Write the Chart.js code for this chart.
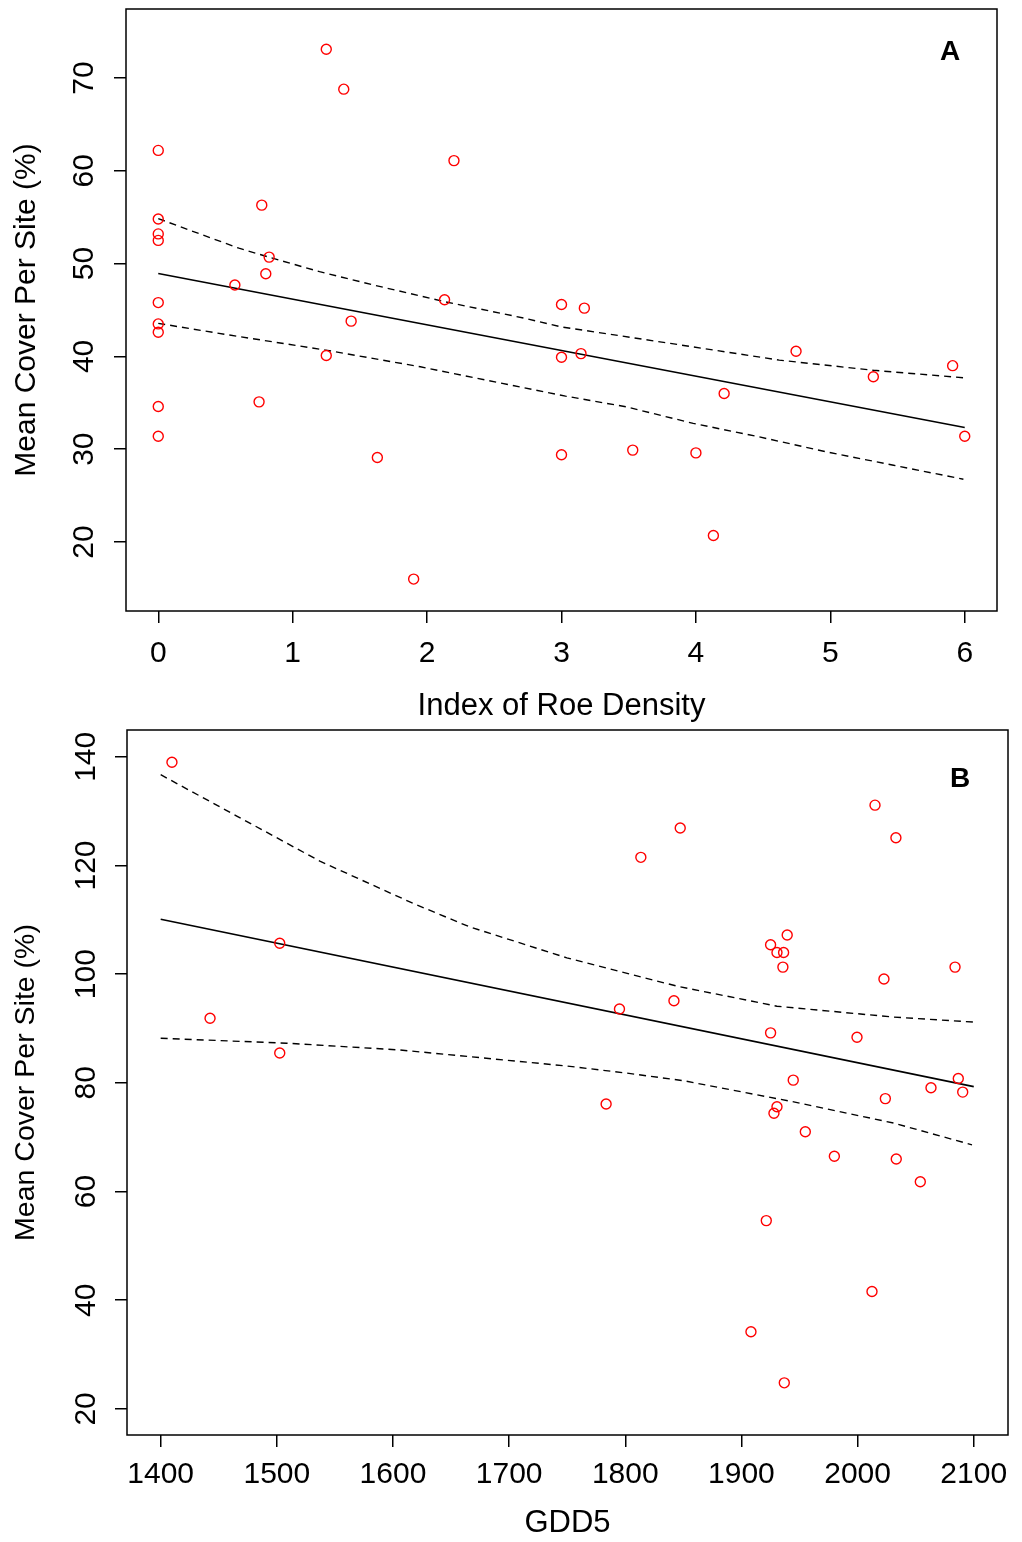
<!DOCTYPE html>
<html>
<head>
<meta charset="utf-8">
<script src="https://cdn.jsdelivr.net/npm/chart.js@4.4.1/dist/chart.umd.min.js"></script>
<style>
  body { margin: 0; background: #fff; }
  #wrap { position: relative; width: 1022px; height: 1542px; }
  canvas { position: absolute; left: 0; }
</style>
</head>
<body>
<div id="wrap">
  <canvas id="chartA" width="1022" height="730" style="top:0"></canvas>
  <canvas id="chartB" width="1022" height="822" style="top:720px"></canvas>
</div>
<script>
// ---- Panel A : cover vs index of roe density
const roeDensity = [1.25, 1.38, 0, 2.20, 0.77, 0, 0, 0, 0.825, 0.80, 0.57, 0, 2.13, 3.0, 3.17,
                    0, 0, 1.435, 1.25, 3.0, 0, 0.75, 0, 1.63, 3.0, 1.90, 3.145, 4.745, 5.91,
                    5.32, 4.21, 6.0, 3.53, 4.0, 4.13];
const coverA = [73.1, 68.8, 62.2, 61.1, 56.3, 54.8, 53.2, 52.5, 50.7, 48.9, 47.7, 45.8, 46.1, 45.6, 45.2,
                43.5, 42.6, 43.8, 40.1, 39.9, 34.6, 35.1, 31.4, 29.1, 29.4, 16.0, 40.3, 40.55, 39.0,
                37.8, 36.0, 31.4, 29.9, 29.6, 20.7];
const fitAx = [0, 6];
const fitAy = [48.94, 32.34];
const upperAx = [0, 0.33, 0.60, 0.825, 1.20, 1.60, 2.13, 2.73, 2.99, 3.81, 4.62, 5.32, 5.99];
const upperAy = [54.85, 53.09, 51.66, 50.69, 49.13, 47.70, 45.9, 44.1, 43.2, 41.4, 39.6, 38.5, 37.7];
const lowerAx = [0, 0.53, 1.245, 1.95, 2.44, 3.03, 3.48, 3.98, 4.47, 4.97, 5.47, 5.99];
const lowerAy = [43.56, 42.3, 40.68, 38.88, 37.44, 35.72, 34.57, 32.78, 31.33, 29.71, 28.27, 26.76];
const ticksAx = [0, 1, 2, 3, 4, 5, 6];
const ticksAy = [20, 30, 40, 50, 60, 70];

// ---- Panel B : cover vs GDD5
const gdd5 = [1409.7, 1502.5, 1442.5, 1502.5, 2015, 1847.3, 2033, 1813.4, 1939.4, 1925.1, 1930.6, 1936.3,
              1935.7, 2083.9, 2022.7, 1841.9, 1795, 1925.1, 1999.5, 1944.6, 2086.7, 2063.2, 2090.5,
              2023.9, 1783.5, 1930.6, 1928, 1955, 1980, 2033.3, 2054, 1921.4, 2012.4, 1908.2, 1936.9];
const coverB = [139.0, 105.7, 91.9, 85.5, 131.1, 126.9, 125.1, 121.5, 107.2, 105.4, 104.0, 104.0,
                101.3, 101.3, 99.1, 95.1, 93.6, 89.2, 88.4, 80.5, 80.8, 79.1, 78.3,
                77.1, 76.1, 75.6, 74.4, 71.0, 66.5, 66.0, 61.8, 54.65, 41.6, 34.2, 24.8];
const fitBx = [1400, 2100];
const fitBy = [110.1, 79.3];
const upperBx = [1400, 1465.5, 1537, 1617.6, 1666, 1749.7, 1844.4, 1930.6, 2031, 2102];
const upperBy = [136.7, 129.1, 120.8, 113.0, 108.7, 103.0, 97.8, 94.1, 92.1, 91.15];
const lowerBx = [1400, 1508.5, 1606, 1749.7, 1801, 1850, 1945, 2031, 2098.5];
const lowerBy = [88.2, 87.3, 86.05, 83.1, 81.8, 80.4, 76.5, 72.6, 68.6];
const ticksBx = [1400, 1500, 1600, 1700, 1800, 1900, 2000, 2100];
const ticksBy = [20, 40, 60, 80, 100, 120, 140];

const FONT = '"Liberation Sans", Arial, Helvetica, sans-serif';

function pairs(xs, ys) {
  return xs.map((x, i) => ({x: x, y: ys[i]}));
}

// box round the plot, vertical y tick labels (R style), panel letter
const rStyle = {
  id: 'rStyle',
  afterDraw(chart, args, opts) {
    const ctx = chart.ctx;
    const a = chart.chartArea;
    const ys = chart.scales.y;
    ctx.save();
    ctx.strokeStyle = '#000';
    ctx.lineWidth = 1.5;
    ctx.strokeRect(a.left, a.top, a.right - a.left, a.bottom - a.top);
    ctx.fillStyle = '#000';
    ctx.font = '30px ' + FONT;
    ctx.textAlign = 'center';
    ctx.textBaseline = 'alphabetic';
    ys.ticks.forEach(t => {
      const py = ys.getPixelForValue(t.value);
      ctx.save();
      ctx.translate(opts.labelX, py);
      ctx.rotate(-Math.PI / 2);
      ctx.fillText(String(t.value), 0, 11);
      ctx.restore();
    });
    ctx.font = 'bold 28px ' + FONT;
    ctx.textAlign = 'left';
    ctx.fillText(opts.tag, a.right + opts.tagDx, a.top + opts.tagDy);
    ctx.restore();
  }
};

function makeChart(id, o) {
  const axisGrid = {drawOnChartArea: false, drawTicks: true, tickLength: 12, color: '#000', lineWidth: 1.5};
  new Chart(document.getElementById(id), {
    type: 'scatter',
    data: {
      datasets: [
        {
          data: pairs(o.px, o.py),
          pointRadius: 5,
          pointBorderWidth: 1.4,
          borderColor: '#ff0000',
          backgroundColor: 'rgba(0,0,0,0)'
        },
        {
          data: pairs(o.fitX, o.fitY), showLine: true, pointRadius: 0,
          borderColor: '#000', borderWidth: 1.6
        },
        {
          data: pairs(o.upX, o.upY), showLine: true, pointRadius: 0,
          borderColor: '#000', borderWidth: 1.4, borderDash: [7, 5]
        },
        {
          data: pairs(o.loX, o.loY), showLine: true, pointRadius: 0,
          borderColor: '#000', borderWidth: 1.4, borderDash: [7, 5]
        }
      ]
    },
    options: {
      responsive: false,
      animation: false,
      layout: {padding: o.padding},
      plugins: {
        legend: {display: false},
        tooltip: {enabled: false},
        rStyle: o.labels
      },
      scales: {
        x: {
          type: 'linear',
          min: o.xMin, max: o.xMax,
          afterBuildTicks: s => { s.ticks = o.xTicks.map(v => ({value: v})); },
          afterFit: s => { s.height = o.xAxisH; s.paddingLeft = 0; s.paddingRight = 0; },
          grid: axisGrid,
          border: {display: false},
          ticks: {font: {size: 30, family: FONT}, color: '#000', padding: o.xTickPad,
                  maxRotation: 0, autoSkip: false, callback: v => String(v)},
          title: {display: true, text: o.xTitle, color: '#000',
                  font: {size: 31, family: FONT}, padding: {top: 0, bottom: o.xTitlePad}}
        },
        y: {
          type: 'linear',
          min: o.yMin, max: o.yMax,
          afterBuildTicks: s => { s.ticks = o.yTicks.map(v => ({value: v})); },
          afterFit: s => { s.width = o.yAxisW; s.paddingTop = 0; s.paddingBottom = 0; },
          grid: axisGrid,
          border: {display: false},
          ticks: {font: {size: 30, family: FONT}, color: 'rgba(0,0,0,0)', autoSkip: false,
                  callback: v => String(v)},
          title: {display: true, text: 'Mean Cover Per Site (%)', color: '#000',
                  font: {size: o.yTitleSize, family: FONT}, padding: {top: 9, bottom: 0}}
        }
      }
    },
    plugins: [rStyle]
  });
}

makeChart('chartA', {
  px: roeDensity, py: coverA,
  fitX: fitAx, fitY: fitAy, upX: upperAx, upY: upperAy, loX: lowerAx, loY: lowerAy,
  xMin: -0.24, xMax: 6.24, yMin: 12.56, yMax: 77.44,
  xTicks: ticksAx, yTicks: ticksAy,
  padding: {top: 9, right: 25, bottom: 0, left: 0},
  xAxisH: 119, yAxisW: 126, xTickPad: 13, xTitlePad: 5, yTitleSize: 30,
  xTitle: 'Index of Roe Density',
  labels: {labelX: 82, tag: 'A', tagDx: -57, tagDy: 51}
});

makeChart('chartB', {
  px: gdd5, py: coverB,
  fitX: fitBx, fitY: fitBy, upX: upperBx, upY: upperBy, loX: lowerBx, loY: lowerBy,
  xMin: 1371, xMax: 2129.5, yMin: 15.2, yMax: 144.93,
  xTicks: ticksBx, yTicks: ticksBy,
  padding: {top: 10, right: 14, bottom: 0, left: 0},
  xAxisH: 107, yAxisW: 127, xTickPad: 10, xTitlePad: 0, yTitleSize: 28.5,
  xTitle: 'GDD5',
  labels: {labelX: 84, tag: 'B', tagDx: -58, tagDy: 57}
});
</script>
</body>
</html>
